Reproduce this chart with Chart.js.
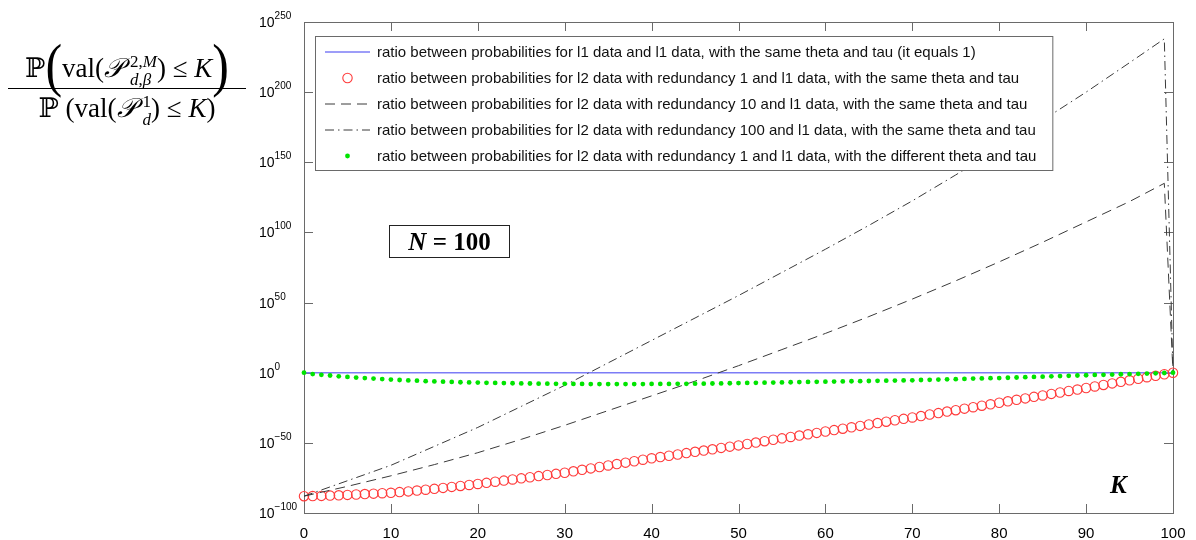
<!DOCTYPE html>
<html>
<head>
<meta charset="utf-8">
<script src="https://cdn.jsdelivr.net/npm/chart.js@4.4.1/dist/chart.umd.min.js"></script>
<style>
  html, body { margin: 0; padding: 0; background: #fff; }
  #wrap { position: relative; width: 1196px; height: 540px; overflow: hidden; }
  #wrap canvas { position: absolute; left: 0; top: 0; }
  .tex { position: absolute; font-family: "Liberation Serif", "DejaVu Serif", serif; color: #000; white-space: nowrap; }
  #ratio { left: 8px; top: 30px; width: 238px; text-align: center; font-size: 27px; }
  #ratio .row { height: 58px; line-height: 70px; }
  #ratio .den { height: 40px; line-height: 38px; }
  #ratio .bar { border-top: 1.4px solid #000; margin: 0; }
  .big { font-size: 50px; display: inline-block; transform: scaleY(1.2); vertical-align: -5px; font-weight: 300; }
  .ss { display: inline-flex; flex-direction: column; font-size: 17px; line-height: 18px; vertical-align: 10px;
        text-align: left; margin-left: 7px; }
  .ss span { display: block; }
  #nbox { left: 389px; top: 225px; width: 119px; height: 31px; border: 1.5px solid #222;
          font-size: 25px; font-weight: bold; text-align: center; line-height: 31px; }
  #klab { left: 1110px; top: 471px; font-size: 25px; font-weight: bold; font-style: italic; }
</style>
</head>
<body>
<div id="wrap">
  <canvas id="ratioChart" width="1196" height="540"></canvas>
  <div id="ratio" class="tex">
    <div class="row">ℙ<span class="big">(</span>val(<i>𝒫</i><span class="ss"><span>2,<i>M</i></span><span><i>d</i>,<i>β</i></span></span>) ≤ <i>K</i><span class="big">)</span></div>
    <div class="bar"></div>
    <div class="den">ℙ (val(<i>𝒫</i><span class="ss"><span>1</span><span><i>d</i></span></span>) ≤ <i>K</i>)</div>
  </div>
  <div id="nbox" class="tex"><i>N</i> = 100</div>
  <div id="klab" class="tex">K</div>
</div>
<script>
/*
  Ratio of probabilities vs K (N = 100), log scale.
  Values below are log10 of the ratio;
  the y axis is linear in the exponent and labelled as 10^k.
*/

/* K for the marker series (one mark per integer K) */
const kAll = [0, 1, 2, 3, 4, 5, 6, 7, 8, 9, 10, 11, 12, 13, 14, 15, 16, 17, 18, 19, 20,
  21, 22, 23, 24, 25, 26, 27, 28, 29, 30, 31, 32, 33, 34, 35, 36, 37, 38, 39, 40,
  41, 42, 43, 44, 45, 46, 47, 48, 49, 50, 51, 52, 53, 54, 55, 56, 57, 58, 59, 60,
  61, 62, 63, 64, 65, 66, 67, 68, 69, 70, 71, 72, 73, 74, 75, 76, 77, 78, 79, 80,
  81, 82, 83, 84, 85, 86, 87, 88, 89, 90, 91, 92, 93, 94, 95, 96, 97, 98, 99, 100];

/* K for the line series */
const kLine = [0, 5, 10, 15, 20, 25, 30, 35, 40, 45, 50, 55, 60, 65, 70, 75, 80, 85, 90, 95, 99, 100];
const kFlat = [0, 100];

/* log10 of each ratio */
const sameL1 = [0, 0];
const red1 = [-88.0, -87.9, -87.8, -87.6, -87.4, -87.1, -86.8, -86.5, -86.2, -85.9, -85.6,
  -85.1, -84.6, -84.0, -83.4, -82.8, -82.1, -81.4, -80.7, -80.0, -79.3,
  -78.5, -77.7, -76.9, -76.1, -75.3, -74.5, -73.7, -72.9, -72.1, -71.3,
  -70.3, -69.2, -68.2, -67.2, -66.1, -65.1, -64.1, -63.1, -62.0, -61.0,
  -60.1, -59.2, -58.3, -57.3, -56.4, -55.5, -54.6, -53.6, -52.7, -51.8,
  -50.8, -49.8, -48.8, -47.8, -46.8, -45.8, -44.8, -43.9, -42.9, -41.9,
  -40.9, -39.9, -38.9, -37.9, -36.9, -35.9, -34.9, -33.9, -32.9, -31.9,
  -30.9, -29.8, -28.8, -27.7, -26.7, -25.6, -24.6, -23.5, -22.5, -21.4,
  -20.4, -19.3, -18.3, -17.2, -16.2, -15.1, -14.1, -13.0, -12.0, -10.9,
  -9.8, -8.7, -7.6, -6.5, -5.4, -4.3, -3.2, -2.2, -1.1, 0.0];
const red10 = [-88, -81, -73.5, -65.5, -57, -47.5, -37.5, -27, -16.5, -6, 5,
  16.5, 28, 40, 52.5, 65.5, 79, 93, 107.5, 122, 135, 0];
const red100 = [-88, -77, -66, -52.5, -39, -24, -9, 7, 23, 39, 55,
  71.5, 88, 105, 122.5, 141, 160, 180, 200, 221, 238, 0];
const diffTheta = [0, -1.0, -1.5, -2.0, -2.6, -3.0, -3.5, -3.8, -4.2, -4.5, -4.9,
  -5.2, -5.5, -5.7, -6.0, -6.2, -6.4, -6.6, -6.8, -6.9, -7.0,
  -7.2, -7.3, -7.4, -7.5, -7.6, -7.7, -7.8, -7.8, -7.9, -7.9,
  -8.0, -8.0, -8.1, -8.1, -8.1, -8.1, -8.1, -8.1, -8.1, -8.0,
  -8.0, -8.0, -7.9, -7.9, -7.8, -7.8, -7.7, -7.6, -7.5, -7.4,
  -7.3, -7.2, -7.1, -7.0, -6.9, -6.8, -6.7, -6.6, -6.5, -6.4,
  -6.3, -6.2, -6.1, -6.0, -5.9, -5.8, -5.7, -5.6, -5.5, -5.4,
  -5.2, -5.1, -4.9, -4.7, -4.6, -4.4, -4.2, -4.1, -3.9, -3.8,
  -3.6, -3.4, -3.2, -3.0, -2.8, -2.6, -2.4, -2.2, -2.0, -1.8,
  -1.6, -1.5, -1.3, -1.1, -1.0, -0.8, -0.6, -0.4, -0.2, 0];

const seriesLabels = [
  'ratio between probabilities for l1 data and l1 data, with the same theta and tau (it equals 1)',
  'ratio between probabilities for l2 data with redundancy 1 and l1 data, with the same theta and tau',
  'ratio between probabilities for l2 data with redundancy 10 and l1 data, with the same theta and tau',
  'ratio between probabilities for l2 data with redundancy 100 and l1 data, with the same theta and tau',
  'ratio between probabilities for l2 data with redundancy 1 and l1 data, with the different theta and tau'
];

/* axis ticks: K values, and exponents of 10 */
const xTicks = [0, 10, 20, 30, 40, 50, 60, 70, 80, 90, 100];
const yTickExps = [-100, -50, 0, 50, 100, 150, 200, 250];

const pts = (xs, ys) => xs.map((x, i) => ({ x: x, y: ys[i] }));

const FRAME = '#6a6a6a';
const SANS = '"Liberation Sans", Arial, sans-serif';

/* frame, inward ticks, 10^k labels and the boxed legend */
const framePlugin = {
  id: 'frame',
  beforeDatasetsDraw(chart) {
    const { ctx, chartArea: a, scales: { x, y } } = chart;
    const t = 9;
    ctx.save();
    ctx.strokeStyle = FRAME;
    ctx.lineWidth = 1;
    ctx.strokeRect(a.left + 0.5, a.top + 0.5, a.right - a.left, a.bottom - a.top);
    ctx.beginPath();
    xTicks.forEach(v => {
      const px = Math.round(x.getPixelForValue(v)) + 0.5;
      ctx.moveTo(px, a.bottom); ctx.lineTo(px, a.bottom - t);
      ctx.moveTo(px, a.top); ctx.lineTo(px, a.top + t);
    });
    yTickExps.forEach(v => {
      const py = Math.round(y.getPixelForValue(v)) + 0.5;
      ctx.moveTo(a.left, py); ctx.lineTo(a.left + t, py);
      ctx.moveTo(a.right, py); ctx.lineTo(a.right - t, py);
    });
    ctx.stroke();

    /* y labels: "10" with a raised exponent */
    ctx.fillStyle = '#000';
    ctx.textBaseline = 'alphabetic';
    yTickExps.forEach(v => {
      const py = y.getPixelForValue(v);
      const lx = a.left - 45;
      ctx.font = '14px ' + SANS;
      ctx.fillText('10', lx, py + 5);
      const w = ctx.measureText('10').width;
      ctx.font = '10px ' + SANS;
      ctx.fillText(String(v).replace('-', '\u2212'), lx + w, py - 3);
    });
    ctx.restore();
  },
  afterDraw(chart) {
    const { ctx, chartArea: a } = chart;
    const left = a.left + 11, top = a.top + 14;
    const rowH = 26, textX = left + 62;
    const font = '15px ' + SANS;
    ctx.save();
    ctx.font = font;
    const maxW = Math.max(...chart.data.datasets.map(d => ctx.measureText(d.label).width));
    const w = textX + maxW + 16 - left;
    const h = rowH * chart.data.datasets.length + 4;
    ctx.fillStyle = '#fff';
    ctx.fillRect(left, top, w, h);
    ctx.strokeStyle = FRAME;
    ctx.lineWidth = 1;
    ctx.strokeRect(left + 0.5, top + 0.5, w, h);

    chart.data.datasets.forEach((d, i) => {
      const cy = top + 16 + i * rowH;
      const x0 = left + 10, x1 = left + 55, cx = (x0 + x1) / 2;
      if (d.showLine === false) {
        ctx.beginPath();
        ctx.arc(cx, cy, d.pointRadius, 0, Math.PI * 2);
        if (d.pointBackgroundColor && d.pointBackgroundColor !== 'transparent') {
          ctx.fillStyle = d.pointBackgroundColor;
          ctx.fill();
        } else {
          ctx.strokeStyle = d.pointBorderColor;
          ctx.lineWidth = d.pointBorderWidth;
          ctx.stroke();
        }
      } else {
        ctx.beginPath();
        ctx.setLineDash(d.borderDash || []);
        ctx.strokeStyle = d.borderColor;
        ctx.lineWidth = d.borderWidth;
        ctx.moveTo(x0, cy); ctx.lineTo(x1, cy);
        ctx.stroke();
        ctx.setLineDash([]);
      }
      ctx.fillStyle = '#111';
      ctx.textBaseline = 'middle';
      ctx.font = font;
      ctx.fillText(d.label, textX, cy + 1);
    });
    ctx.restore();
  }
};

new Chart(document.getElementById('ratioChart'), {
  type: 'line',
  data: {
    datasets: [
      {
        label: seriesLabels[0],
        data: pts(kFlat, sameL1),
        borderColor: '#7c7cf6',
        borderWidth: 1.5,
        pointRadius: 0,
        order: 5
      },
      {
        label: seriesLabels[1],
        data: pts(kAll, red1),
        showLine: false,
        pointRadius: 4.7,
        pointBorderColor: '#ff3b3b',
        pointBorderWidth: 1.1,
        pointBackgroundColor: 'transparent',
        order: 4
      },
      {
        label: seriesLabels[2],
        data: pts(kLine, red10),
        borderColor: '#3a3a3a',
        borderWidth: 1,
        borderDash: [10, 6],
        pointRadius: 0,
        order: 3
      },
      {
        label: seriesLabels[3],
        data: pts(kLine, red100),
        borderColor: '#3a3a3a',
        borderWidth: 1,
        borderDash: [9, 4, 1.5, 4],
        pointRadius: 0,
        order: 2
      },
      {
        label: seriesLabels[4],
        data: pts(kAll, diffTheta),
        showLine: false,
        pointRadius: 2.4,
        pointBorderWidth: 0,
        pointBackgroundColor: '#00e400',
        pointBorderColor: '#00e400',
        order: 1
      }
    ]
  },
  options: {
    responsive: false,
    animation: false,
    clip: 8,
    layout: { padding: { left: 304, right: 23, top: 22, bottom: 0 } },
    plugins: {
      legend: { display: false },
      tooltip: { enabled: false }
    },
    scales: {
      x: {
        type: 'linear',
        min: 0,
        max: 100,
        afterBuildTicks: s => { s.ticks = xTicks.map(v => ({ value: v })); },
        afterFit: s => { s.height = 27; },
        grid: { display: false },
        border: { display: false },
        ticks: { color: '#000', padding: 4, font: { size: 15, family: SANS } }
      },
      y: {
        type: 'linear',
        display: false,
        min: -100,
        max: 250
      }
    }
  },
  plugins: [framePlugin]
});
</script>
</body>
</html>
